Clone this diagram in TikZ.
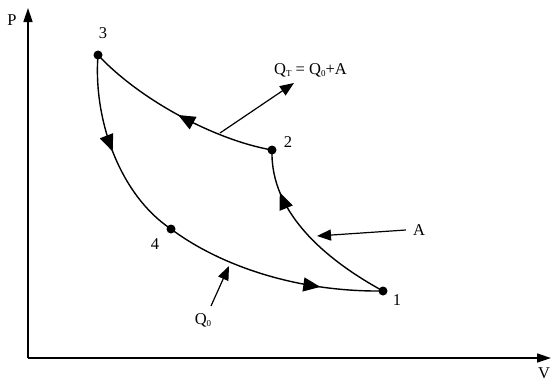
\documentclass[tikz,border=0pt]{standalone}
\usepackage{fontspec}
\setmainfont{Liberation Serif}
\usetikzlibrary{arrows.meta,decorations.markings}
\newcommand{\lsub}[1]{\raisebox{-0.35ex}{\fontsize{9}{10}\selectfont #1}}
\begin{document}
\begin{tikzpicture}[x=1pt,y=-1pt,
  dot/.style={circle,fill=black,inner sep=0pt,minimum size=9pt},
  lbl/.style={inner sep=1pt,font=\fontsize{16.5}{18}\selectfont},
  curve/.style={line width=1.4pt},
  ptr/.style={line width=1.2pt,-{Triangle[length=14pt,width=11pt]}},
  axis/.style={line width=1.6pt,-{Triangle[length=14pt,width=9pt]}},
  midarrow/.style={postaction={decorate},decoration={markings,mark=at position #1 with {\arrow{Triangle[length=17pt,width=14pt]}}}}]
\useasboundingbox (0,0) rectangle (553,383);
\coordinate (o) at (28,358);
\coordinate (ytop) at (28,8);
\coordinate (xend) at (551,358);
\draw[axis] (o) -- (ytop);
\draw[axis] (o) -- (xend);
\node[lbl] (P) at (12,20) {P};
\node[lbl] (V) at (544,373) {V};
\node[dot] (p1) at (383,291) {};
\node[dot] (p2) at (272,150) {};
\node[dot] (p3) at (98,55) {};
\node[dot] (p4) at (171,229) {};
\node[lbl] (l1) at (397,300) {1};
\node[lbl] (l2) at (288,142) {2};
\node[lbl] (l3) at (103,33) {3};
\node[lbl] (l4) at (155,244) {4};
% 1 -> 2
\draw[curve,midarrow=0.77] (p1.center) .. controls (330,262) and (270,215) .. (p2.center);
% 2 -> 3
\draw[curve,midarrow=0.5] (p2.center) .. controls (215,140) and (140,100) .. (p3.center);
% 3 -> 4 -> 1
\draw[curve,midarrow=0.5] (p3.center) .. controls (93,120) and (120,195) .. (p4.center);
\draw[curve,midarrow=0.72] (p4.center) .. controls (215,262) and (290,292) .. (p1.center);
% heat arrows
\coordinate (qts) at (220,133);
\coordinate (qte) at (294,83);
\draw[ptr] (qts) -- (qte);
\node[lbl,anchor=west] (QT) at (273,70) {Q\lsub{T} = Q\lsub{0}+A};
\node[lbl] (A) at (419,230) {A};
\coordinate (ae) at (317,236);
\draw[ptr] (A.west) ++(-6,0) -- (ae);
\node[lbl] (Q0) at (203,320) {Q\lsub{0}};
\coordinate (q0e) at (229,266);
\draw[ptr] (Q0.north) ++(8,-6) -- (q0e);
\end{tikzpicture}
\end{document}
